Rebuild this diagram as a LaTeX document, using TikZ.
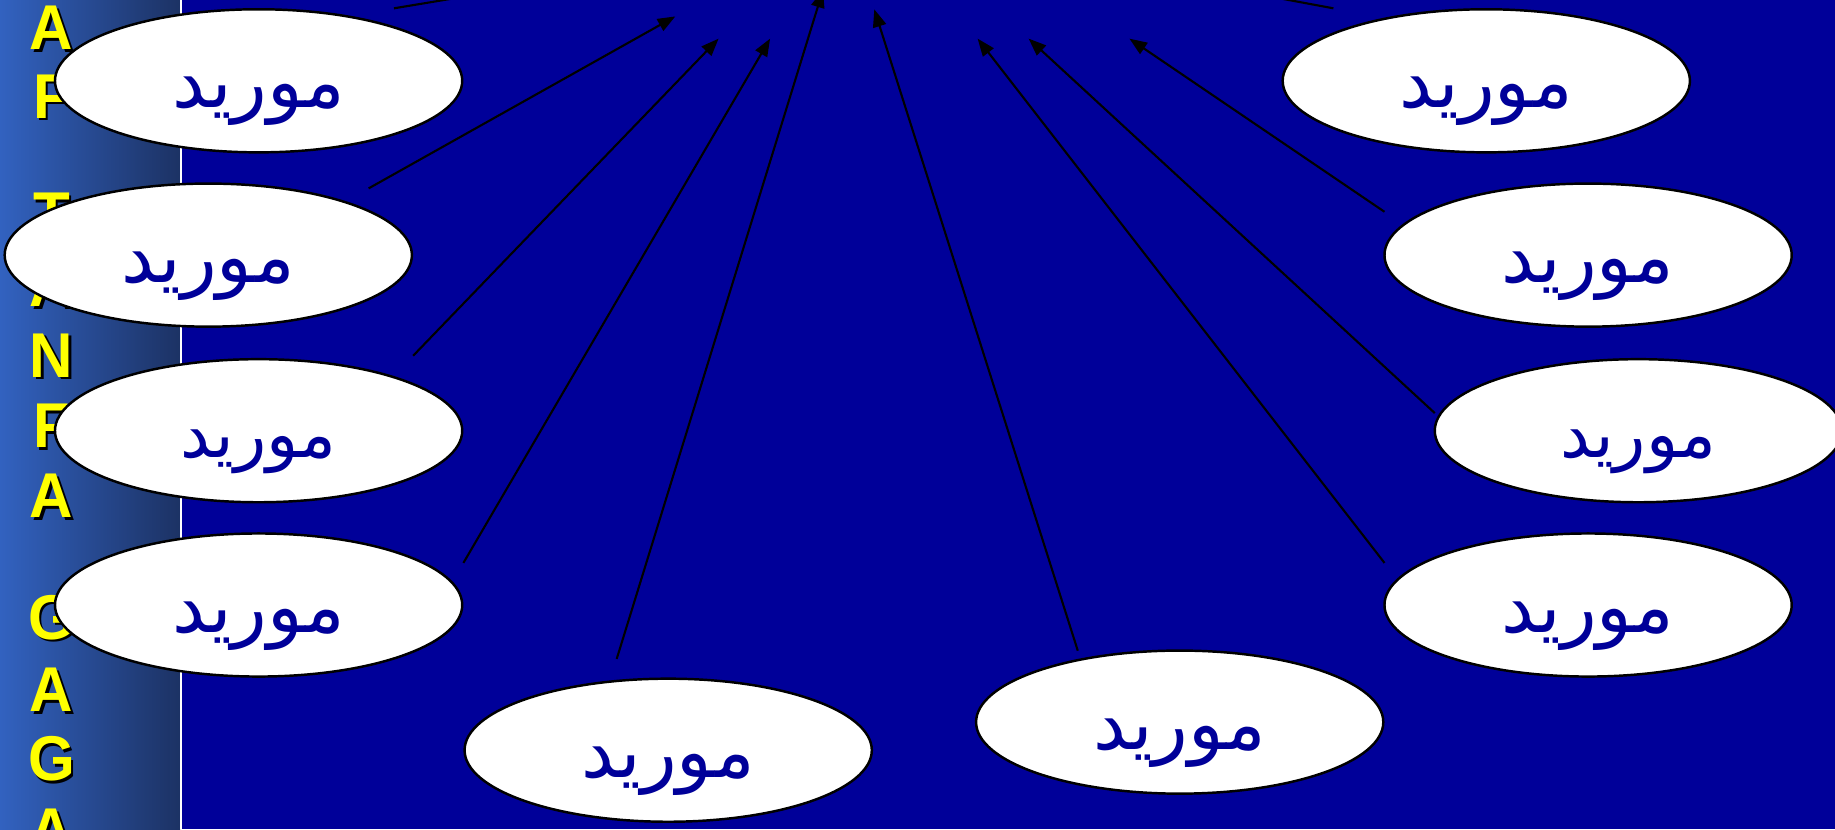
\documentclass[tikz,border=0pt]{standalone}
\usepackage{fontspec}
\setmainfont{Liberation Sans}
\newfontfamily\arabicfont[Script=Arabic]{DejaVu Sans}
\TeXXeTstate=1
\usetikzlibrary{arrows.meta,shapes.geometric}
\definecolor{slideblue}{RGB}{0,0,153}
\definecolor{barlight}{RGB}{50,98,192}
\definecolor{bardark}{RGB}{28,50,100}
\definecolor{labelyellow}{RGB}{255,255,0}
\tikzset{
  line/.style={-{Triangle[length=5pt,width=3.8pt]}, line width=0.6pt},
  oval/.style={ellipse, draw, fill=white, line width=0.7pt, minimum width=40.7mm,
    minimum height=14.3mm, inner sep=0pt, text=slideblue,
    text height=0.54cm, text depth=0pt,
    font=\arabicfont\fontsize{21}{25}\selectfont},
  smalloval/.style={oval, font=\arabicfont\fontsize{19}{23}\selectfont},
  letter/.style={text=labelyellow, font=\bfseries\fontsize{18}{20}\selectfont,
    xscale=0.95, inner sep=0pt},
  lettershadow/.style={letter, text=black}
}

\begin{document}
\begin{tikzpicture}[x=0.01cm, y=-0.01cm]
  \useasboundingbox (0,0) rectangle (1835,829);
  \clip (0,0) rectangle (1835,829);
  \fill[slideblue] (0,0) rectangle (1835,829);
  \shade[left color=barlight, right color=bardark] (0,0) rectangle (180,829);
  \fill[white] (179.5,0) rectangle (182,829);

  % side title
  \foreach \ltr/\yy [count=\i] in {A/28,F/96.6,T/215,A/285,N/355.7,F/425.9,
      A/495.8,G/617.4,A/690,G/759,A/831}{
    \node[lettershadow] (s\i) at (54,\yy+2.5) {\ltr};
    \node[letter] (l\i) at (51.5,\yy) {\ltr};
  }

  % suppliers
  \node[oval] (e1) at (258.6,80.8) {\beginR موريد\endR};
  \node[oval] (e2) at (208.3,255.1) {\beginR موريد\endR};
  \node[smalloval] (e3) at (258.6,430.7) {\beginR موريد\endR};
  \node[oval] (e4) at (258.6,605.0) {\beginR موريد\endR};
  \node[oval] (e5) at (668.2,750.2) {\beginR موريد\endR};
  \node[oval] (e6) at (1179.7,722.1) {\beginR موريد\endR};
  \node[oval] (e7) at (1588.1,605.0) {\beginR موريد\endR};
  \node[smalloval] (e8) at (1638.4,430.7) {\beginR موريد\endR};
  \node[oval] (e9) at (1588.1,255.1) {\beginR موريد\endR};
  \node[oval] (e10) at (1486.3,80.8) {\beginR موريد\endR};

  % arrow targets (above the frame)
  \coordinate (t1) at (564,-20);
  \coordinate (t2) at (675.3,16.4);
  \coordinate (t3) at (718.6,38.6);
  \coordinate (t4) at (770.1,38.6);
  \coordinate (t5) at (823,-10);
  \coordinate (t6) at (874.3,9.3);
  \coordinate (t7) at (977.6,38.6);
  \coordinate (t8) at (1028.6,38.6);
  \coordinate (t9) at (1129.4,38.6);
  \coordinate (t10) at (1181,-20);

  \draw[line] ([shift={(135.4,-72.5)}]e1.center) -- (t1);
  \draw[line] ([shift={(160.3,-66.7)}]e2.center) -- (t2);
  \draw[line] ([shift={(154.5,-74.9)}]e3.center) -- (t3);
  \draw[line] ([shift={(204.8,-42.1)}]e4.center) -- (t4);
  \draw[line] ([shift={(-51.5,-91.3)}]e5.center) -- (t5);
  \draw[line] ([shift={(-101.9,-71.4)}]e6.center) -- (t6);
  \draw[line] ([shift={(-203.6,-42.1)}]e7.center) -- (t7);
  \draw[line] ([shift={(-203.6,-17.6)}]e8.center) -- (t8);
  \draw[line] ([shift={(-203.6,-43.3)}]e9.center) -- (t9);
  \draw[line] ([shift={(-152.9,-72.5)}]e10.center) -- (t10);
\end{tikzpicture}
\end{document}
